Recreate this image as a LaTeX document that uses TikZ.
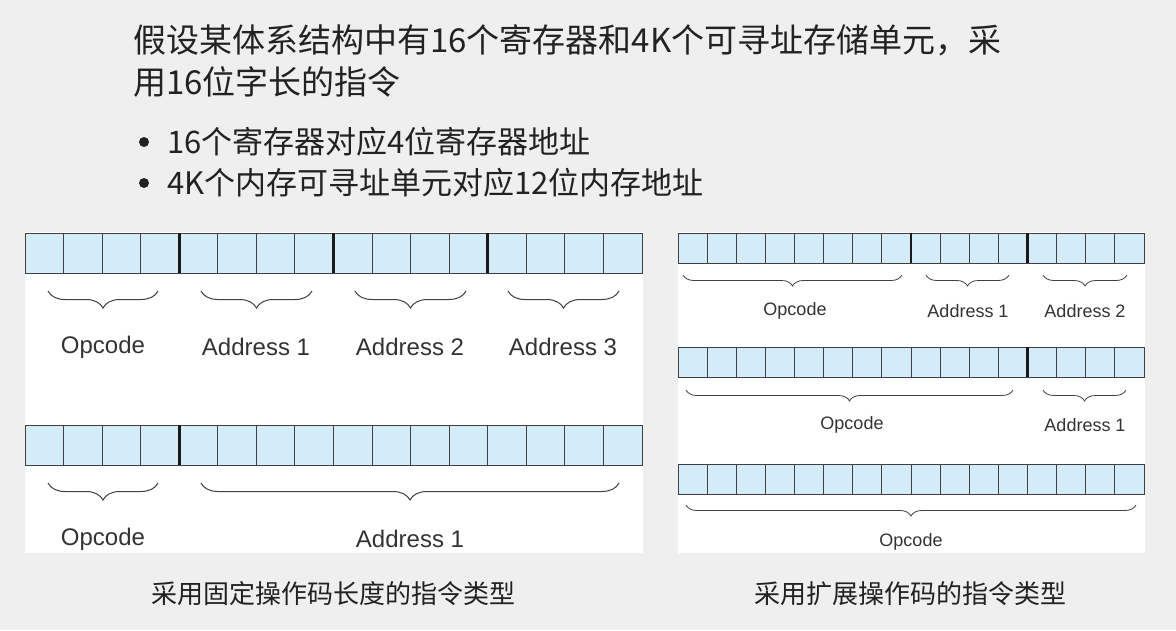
\documentclass[tikz,border=0pt]{standalone}
\usepackage{fontspec}
\setmainfont{Liberation Sans}
\newfontfamily\cjk{Noto Sans CJK SC}
\usetikzlibrary{decorations.pathreplacing}
\definecolor{bg}{HTML}{EFEFEF}
\definecolor{cell}{HTML}{D4EBFA}
\definecolor{txt}{HTML}{222222}
\definecolor{lab}{HTML}{333333}
\tikzset{
  cellbox/.style={draw=black!75,fill=cell,line width=0.9pt},
  sepline/.style={line width=2.6pt,black!90},
  brL/.style={decorate,decoration={brace,mirror,amplitude=17pt},line width=1pt,black!75},
  brR/.style={decorate,decoration={brace,mirror,amplitude=11pt},line width=0.8pt,black!75},
  labL/.style={font=\fontsize{24}{26}\selectfont,text=lab,inner sep=0},
  labR/.style={font=\fontsize{18}{20}\selectfont,text=lab,inner sep=0},
  captxt/.style={font=\cjk\fontsize{26}{30}\selectfont,text=txt,inner sep=0},
}
\newcommand\regrow[5]{%
  \foreach \i in {0,...,15}{
    \draw[cellbox] ({#1+\i*#3/16},#2) rectangle ({#1+(\i+1)*#3/16},#2+#4);
  }
  \foreach \s in {#5}{
    \draw[sepline] ({#1+\s*#3/16},#2) -- ({#1+\s*#3/16},#2+#4);
  }
}
\begin{document}
\begin{tikzpicture}[x=1pt,y=-1pt]
\fill[bg] (0,0) rectangle (1176,630);
\useasboundingbox (0,0) rectangle (1176,630);
\fill[white] (25,232) rectangle (643,553);
\fill[white] (678,232) rectangle (1145,553);
% title
\node[anchor=west,font=\cjk\fontsize{33}{40}\selectfont,text=txt,inner sep=0] (t1) at (133,40) {假设某体系结构中有16个寄存器和4K个可寻址存储单元，采};
\node[anchor=west,font=\cjk\fontsize{33}{40}\selectfont,text=txt,inner sep=0] (t2) at (133,82) {用16位字长的指令};
\fill[txt] (144,142) circle (5);
\fill[txt] (144,183) circle (5);
\node[anchor=west,font=\cjk\fontsize{31}{36}\selectfont,text=txt,inner sep=0] (b1) at (167,142) {16个寄存器对应4位寄存器地址};
\node[anchor=west,font=\cjk\fontsize{31}{36}\selectfont,text=txt,inner sep=0] (b2) at (167,183) {4K个内存可寻址单元对应12位内存地址};
% left panel
\regrow{25}{233}{617}{40}{4,8,12}
\draw[brL] (48,291) -- (158,291);
\draw[brL] (201,291) -- (312,291);
\draw[brL] (355,291) -- (466,291);
\draw[brL] (508,291) -- (619,291);
\node[labL] (l1) at (103,347) {Opcode};
\node[labL] (l2) at (256,347) {Address 1};
\node[labL] (l3) at (410,347) {Address 2};
\node[labL] (l4) at (563,347) {Address 3};
\regrow{25}{425}{617}{40}{4}
\draw[brL] (48,483) -- (158,483);
\draw[brL] (201,483) -- (619,483);
\node[labL] (l5) at (103,539) {Opcode};
\node[labL] (l6) at (410,539) {Address 1};
% right panel
\regrow{678}{233}{466}{30}{8,12}
\draw[brR] (683,275) -- (902,275);
\draw[brR] (926,275) -- (1009,275);
\draw[brR] (1043,275) -- (1127,275);
\node[labR] (r1) at (795,311) {Opcode};
\node[labR] (r2) at (968,311) {Address 1};
\node[labR] (r3) at (1085,311) {Address 2};
\regrow{678}{347}{466}{30}{12}
\draw[brR] (686,390) -- (1013,390);
\draw[brR] (1043,390) -- (1126,390);
\node[labR] (r4) at (852,425) {Opcode};
\node[labR] (r5) at (1085,425) {Address 1};
\regrow{678}{464}{466}{30}{}
\draw[brR] (686,505) -- (1136,505);
\node[labR] (r6) at (911,542) {Opcode};
% captions
\node[captxt] (c1) at (333,594) {采用固定操作码长度的指令类型};
\node[captxt] (c2) at (910,594) {采用扩展操作码的指令类型};
\end{tikzpicture}
\end{document}
